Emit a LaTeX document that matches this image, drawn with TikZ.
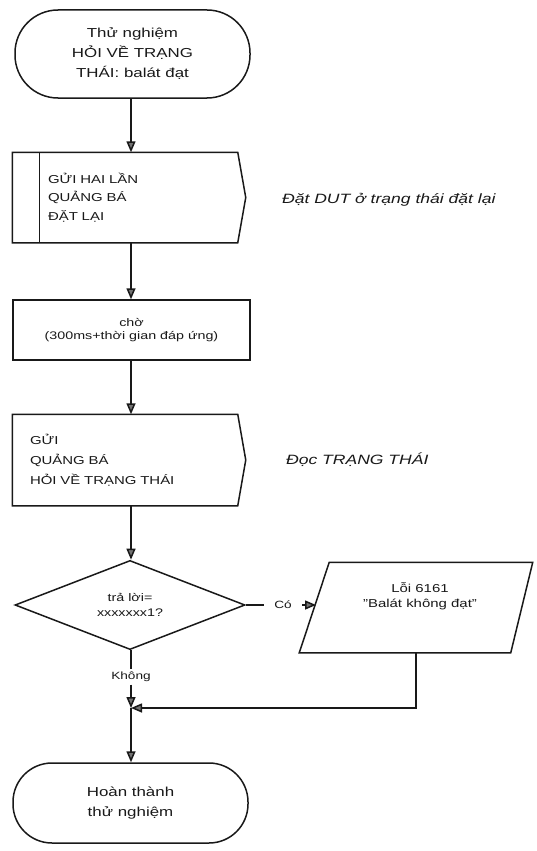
\documentclass[tikz,border=0pt]{standalone}
\usepackage{fontspec}
\setmainfont{Liberation Sans}[FakeStretch=1.3]
\usetikzlibrary{shapes.geometric,arrows.meta,calc}
\begin{document}
\begin{tikzpicture}[x=1pt,y=-1pt,
  line width=1.5pt, color=black!90,
  arr/.style={-{Triangle[length=11pt,width=9pt,fill=black!55]}},
  term/.style={draw, rectangle, minimum width=235pt, align=center,
    font=\fontsize{13}{20}\selectfont},
  sendbox/.style={rectangle, minimum width=232pt, align=left, inner ysep=0pt},
  procbox/.style={draw, rectangle, minimum width=237pt, minimum height=60pt, align=center,
    font=\fontsize{11}{13.5}\selectfont},
  note/.style={anchor=west, font=\itshape\fontsize{13.5}{16}\selectfont},
  small/.style={font=\fontsize{10.5}{12}\selectfont}
]
\useasboundingbox[fill=white] (0,0) rectangle (536,851);
\coordinate (ax) at (131,0);

% start terminal
\node[term, rounded corners=43pt, minimum height=88pt] (start) at (132.5,54) {Thử nghiệm\\HỎI VỀ TRẠNG\\THÁI: balát đạt};

% box 1 (send)
\node[sendbox, minimum height=89pt, text width=162pt, inner xsep=35pt,
  font=\fontsize{11.5}{18.5}\selectfont] (b1) at (129,197.5) {GỬI HAI LẦN\\QUẢNG BÁ\\ĐẶT LẠI};
\draw (b1.north west) -- ([xshift=-8pt]b1.north east) -- (b1.east) -- ([xshift=-8pt]b1.south east) -- (b1.south west) -- cycle;
\draw ([xshift=27pt]b1.north west) -- ([xshift=27pt]b1.south west);
\node[note] (n1) at (278,200) {Đặt DUT ở trạng thái đặt lại};

% box 2 (process)
\node[procbox] (b2) at (131.5,330) {chờ\\(300ms+thời gian đáp ứng)};

% box 3 (send)
\node[sendbox, minimum height=90pt, text width=198pt, inner xsep=17pt,
  font=\fontsize{11.5}{20}\selectfont] (b3) at (129,460) {GỬI\\QUẢNG BÁ\\HỎI VỀ TRẠNG THÁI};
\draw (b3.north west) -- ([xshift=-8pt]b3.north east) -- (b3.east) -- ([xshift=-8pt]b3.south east) -- (b3.south west) -- cycle;
\node[note] (n2) at (282,460) {Đọc TRẠNG THÁI};

% decision
\node[draw, diamond, minimum width=230pt, minimum height=86pt, inner sep=0pt, align=center,
  font=\fontsize{11}{15}\selectfont] (d) at (130,605) {trả lời=\\xxxxxxx1?};

% parallelogram (error output)
\node[rectangle, minimum width=232pt, minimum height=89pt, inner sep=0pt] (p) at (416,607.5) {};
\draw ([xshift=30pt]p.north west) -- (p.north east) -- ([xshift=-22pt]p.south east) -- (p.south west) -- cycle;
\node[align=center, font=\fontsize{11.5}{14.5}\selectfont] (ptxt) at (420,596) {Lỗi 6161\\"Balát không đạt"};
\coordinate (pl) at (316,605);

% labels
\node[small, inner xsep=10pt, inner ysep=2pt] (co) at (283,605) {Có};
\node[small, inner sep=2pt] (kh) at (131,677) {Không};

% end terminal
\node[term, rounded corners=39pt, minimum height=80pt] (end) at (130.5,803) {Hoàn thành\\thử nghiệm};

\coordinate (j) at (131,708);

% connectors
\draw[arr] (start.south -| ax) -- (b1.north -| ax);
\draw[arr] (b1.south -| ax) -- (b2.north -| ax);
\draw[arr] (b2.south -| ax) -- (b3.north -| ax);
\draw[arr] (b3.south -| ax) -- (d.north -| ax);
\draw (d.east) -- (co.west);
\draw[arr] (co.east) -- (pl);
\draw (d.south -| ax) -- (kh.north);
\draw[arr] (kh.south) -- (j);
\draw[arr] (p.south) |- (j);
\draw[arr] (j) -- (end.north -| ax);
\end{tikzpicture}
\end{document}
